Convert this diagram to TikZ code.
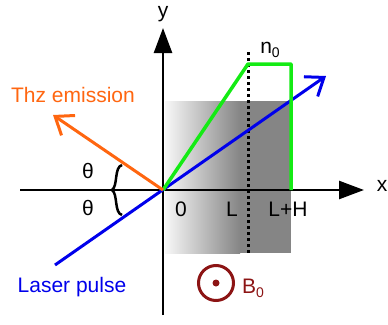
\documentclass[tikz,border=0pt]{standalone}
\usepackage{fontspec}
\setmainfont{Liberation Sans}
\usetikzlibrary{arrows.meta}
\definecolor{thzorange}{RGB}{255,102,16}
\definecolor{laserblue}{RGB}{0,0,235}
\definecolor{densgreen}{RGB}{20,235,20}
\definecolor{bred}{RGB}{140,20,20}
\definecolor{slabgray}{RGB}{133,133,133}
\tikzset{
  lbl/.style={font=\fontsize{21}{25}\selectfont, inner sep=0pt, anchor=base},
  axisline/.style={line width=2.5pt, -{Triangle[length=25pt,width=18pt]}},
  beam/.style={line width=3pt, -{Straight Barb[length=16pt,width=24pt,line width=3pt]}},
}
\newcommand{\subz}{\raisebox{-4pt}{\fontsize{14}{14}\selectfont 0}}
\begin{document}
\begin{tikzpicture}[x=1pt,y=-1pt]
\useasboundingbox (0,0) rectangle (388,324);
% slab
\shade[left color=gray!6, right color=slabgray] (165,101) rectangle (240,253);
\fill[slabgray] (239.5,101) rectangle (291,253);
% coordinates
\coordinate (O) at (163,190);
\coordinate (xs) at (20,190);
\coordinate (xe) at (364,190);
\coordinate (ys) at (163,315);
\coordinate (ye) at (163,28);
\coordinate (dt) at (248,52);
\coordinate (db) at (248,253);
\coordinate (g1) at (248,64);
\coordinate (g2) at (291,64);
\coordinate (g3) at (291,190);
\coordinate (bs) at (55,265);
\coordinate (be) at (326,76);
\coordinate (oe) at (53,115);
% dotted line
\draw[line width=3pt, dash pattern=on 3pt off 3pt] (dt) -- (db);
% axes
\draw[axisline] (xs) -- (xe);
\draw[axisline] (ys) -- (ye);
% beams
\draw[beam, laserblue] (bs) -- (be);
\draw[line width=3.5pt, densgreen, line join=round] (O) -- (g1) -- (g2) -- (g3);
\draw[beam, thzorange] (O) -- (oe);
% brace
\draw[line width=2.5pt] (122,165) .. controls (114,167) and (118,186) .. (112,190) .. controls (118,194) and (114,213) .. (122,215);
% labels
\node[lbl] (ylab) at (163,17) {y};
\node[lbl] (xlab) at (382,191) {x};
\node[lbl] (n0) at (270,53) {n\subz};
\node[lbl, thzorange] (thz) at (73,102) {Thz emission};
\node[lbl, laserblue] (laser) at (72,292) {Laser pulse};
\node[lbl] (th1) at (88,178) {θ};
\node[lbl] (th2) at (88,215) {θ};
\node[lbl] (zero) at (181,216) {0};
\node[lbl] (Llab) at (232,216) {L};
\node[lbl] (LHlab) at (288,216) {L+H};
% B0
\node[circle, draw=bred, line width=3pt, minimum size=35pt, inner sep=0pt] (bcirc) at (216,283) {};
\fill[bred] (bcirc.center) circle (3.5pt);
\node[lbl, bred, anchor=base west] (b0) at (242,293) {B\subz};
\end{tikzpicture}
\end{document}
